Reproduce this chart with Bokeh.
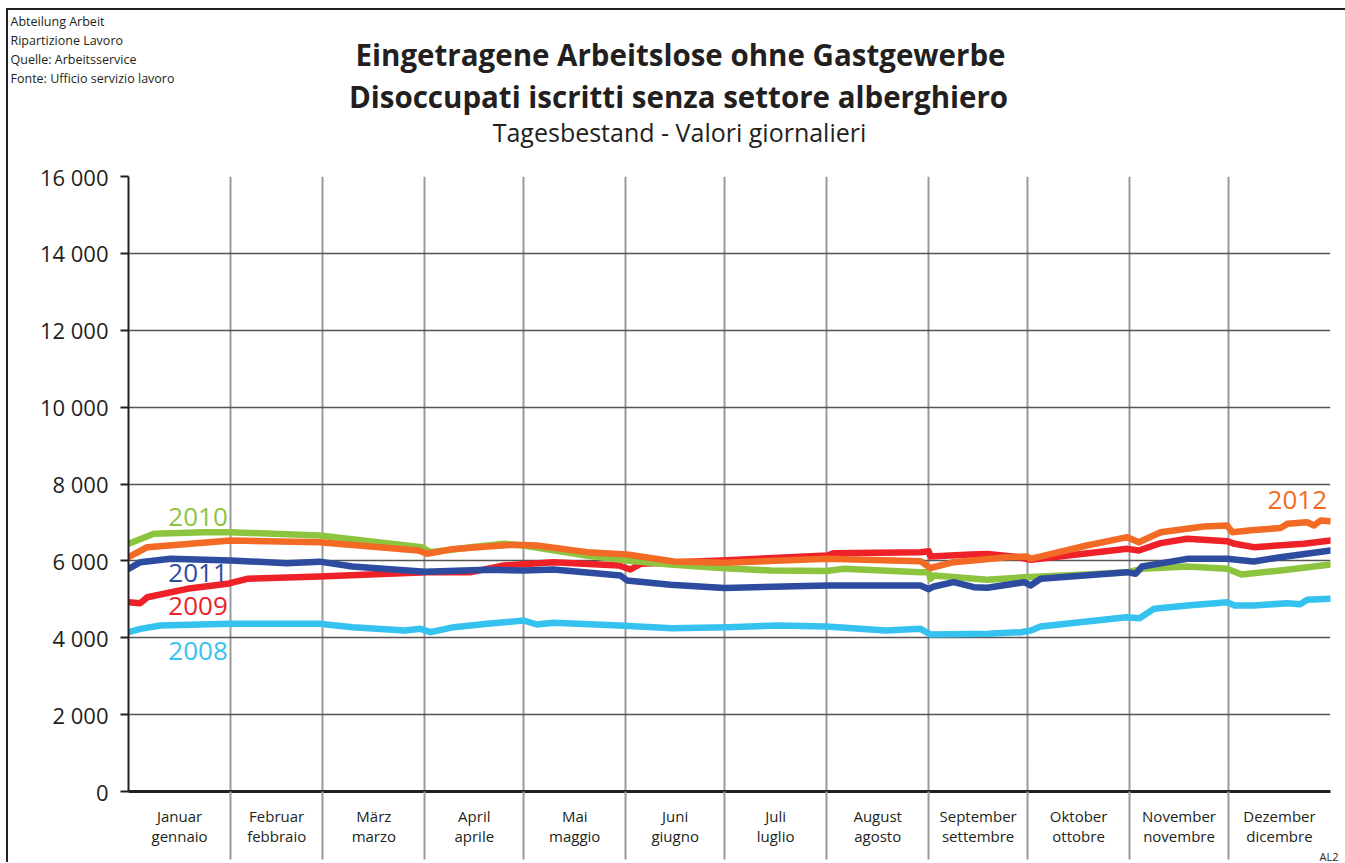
from bokeh.plotting import figure
from bokeh.models import FixedTicker, Range1d, Label, Title
from bokeh.layouts import column
from bokeh.core.properties import value
from bokeh.embed import file_html
from bokeh.resources import INLINE

# ---------------- data ----------------
month_de = ["Januar", "Februar", "März", "April", "Mai", "Juni", "Juli",
            "August", "September", "Oktober", "November", "Dezember"]
month_it = ["gennaio", "febbraio", "marzo", "aprile", "maggio", "giugno",
            "luglio", "agosto", "settembre", "ottobre", "novembre", "dicembre"]
month_days = [31, 28, 31, 30, 31, 30, 31, 31, 30, 31, 30, 31]

y_ticks = [0, 2000, 4000, 6000, 8000, 10000, 12000, 14000, 16000]
y_tick_labels = ["0", "2 000", "4 000", "6 000", "8 000", "10 000",
                 "12 000", "14 000", "16 000"]

title_lines = ["Eingetragene Arbeitslose ohne Gastgewerbe",
               "Disoccupati iscritti senza settore alberghiero"]
subtitle = "Tagesbestand - Valori giornalieri"
source_lines = ["Abteilung Arbeit", "Ripartizione Lavoro",
                "Quelle: Arbeitsservice", "Fonte: Ufficio servizio lavoro"]

# day of year -> registered unemployed
day_2008 = [0, 3.6, 9.7, 31, 58, 68, 84, 88.7, 91.7, 98.8, 109, 120, 124, 129,
            149, 165, 182, 197, 212, 230, 240.5, 243.5, 261, 271, 274, 277,
            303, 307, 311.4, 321.5, 333.6, 335.9, 341.7, 351.9, 355.8, 357.9, 365]
val_2008 = [4145, 4230, 4319, 4362, 4362, 4275, 4189, 4232, 4145, 4275, 4362, 4449,
            4345, 4392, 4319, 4250, 4275, 4319, 4293, 4189, 4232, 4085, 4102, 4145,
            4189, 4293, 4536, 4510, 4753, 4839, 4925, 4839, 4839, 4900, 4874, 4986, 5012]

day_2009 = [0, 3.6, 5.7, 17.8, 30, 36, 58, 90.7, 104, 114, 129, 149, 152.4, 155.5,
            180, 212.2, 214.2, 240.5, 243, 243.5, 255.7, 260.8, 270, 274,
            303.3, 306.8, 313.4, 321.5, 333.6, 335.9, 341.7, 356.9, 365]
val_2009 = [4925, 4900, 5055, 5273, 5403, 5533, 5594, 5706, 5706, 5880, 5966, 5880,
            5776, 5923, 6010, 6140, 6200, 6227, 6250, 6114, 6166, 6180, 6100, 6027,
            6313, 6270, 6461, 6574, 6513, 6444, 6357, 6444, 6530]

day_2010 = [0, 7.7, 23, 31, 58, 89, 91.7, 104, 114, 120, 139, 151.4, 164.6, 181,
            195, 212.2, 217.2, 240.5, 243, 243.5, 244.6, 260.8, 272, 291, 303.3,
            307.8, 321.5, 333.6, 338, 349.8, 365]
val_2010 = [6444, 6704, 6746, 6746, 6660, 6356, 6227, 6356, 6444, 6400, 6140, 6010,
            5906, 5806, 5750, 5737, 5793, 5706, 5706, 5533, 5620, 5507, 5575, 5646,
            5706, 5793, 5854, 5793, 5646, 5750, 5906]

day_2011 = [0, 3.6, 12.8, 31, 48, 58, 68, 90, 109, 120, 129, 149.4, 151.4, 164.6,
            181, 212.2, 240.5, 243, 244.6, 250.6, 256.7, 260.8, 272, 273.9, 277,
            303.3, 305.8, 307.8, 321.5, 333.6, 341.7, 349.8, 365]
val_2011 = [5793, 5966, 6053, 6010, 5940, 5980, 5854, 5715, 5767, 5750, 5776, 5620,
            5490, 5377, 5295, 5360, 5360, 5264, 5334, 5446, 5316, 5299, 5446, 5360,
            5533, 5706, 5663, 5854, 6053, 6053, 5984, 6096, 6270]

day_2012 = [0, 5.7, 31, 58, 88, 90.7, 98, 109, 117, 124, 139.3, 151.4, 165.6, 181,
            212.2, 240.5, 243.5, 250.6, 266.8, 272.9, 273.9, 291, 303.3, 306.8,
            313.4, 326.5, 333.6, 335.2, 341.7, 349.8, 351.9, 357.9, 360, 362, 365]
val_2012 = [6096, 6356, 6530, 6486, 6270, 6184, 6300, 6374, 6418, 6400, 6227, 6166,
            5984, 5950, 6053, 5993, 5814, 5966, 6096, 6114, 6053, 6400, 6617, 6486,
            6746, 6894, 6920, 6746, 6803, 6855, 6963, 7006, 6920, 7050, 7033]

series = [
    ("2008", day_2008, val_2008, "#35C2EF"),
    ("2009", day_2009, val_2009, "#EE2128"),
    ("2010", day_2010, val_2010, "#8DC43F"),
    ("2011", day_2011, val_2011, "#2E4C9F"),
    ("2012", day_2012, val_2012, "#F26A24"),
]

FONT = "Open Sans"
INK = "#231f20"

# ---------------- header (titles / source), coordinates = page pixels ----------------
HX0, HY0, HW, HH = 8, 10, 1337, 151
hdr = figure(width=HW, height=HH, output_backend="svg", toolbar_location=None,
             x_range=Range1d(HX0, HX0 + HW), y_range=Range1d(HY0 + HH, HY0),
             x_axis_type=None, y_axis_type=None, min_border=0)
hdr.outline_line_color = None
hdr.grid.visible = False
hdr.border_fill_color = "white"

hdr.text(x=[680, 678], y=[54, 96], text=title_lines, text_font=value(FONT),
         text_font_size="29.5px", text_font_style="bold", text_color=INK,
         text_align="center", text_baseline="middle")
hdr.text(x=[679], y=[131], text=[subtitle], text_font=value(FONT),
         text_font_size="25px", text_color=INK, text_align="center",
         text_baseline="middle")
hdr.text(x=[10] * 4, y=[21, 40, 59, 78], text=source_lines, text_font=value(FONT),
         text_font_size="12.5px", text_color=INK, text_align="left",
         text_baseline="middle")

# ---------------- main chart ----------------
bounds = [0]
for m in month_days:
    bounds.append(bounds[-1] + m)
mids = [(bounds[i] + bounds[i + 1]) / 2 for i in range(12)]

p = figure(width=1337, height=701, output_backend="svg", toolbar_location=None,
           x_range=Range1d(0, bounds[-1]), y_range=Range1d(0, 16000),
           min_border_left=120, min_border_right=15, min_border_top=15,
           min_border_bottom=71)
p.outline_line_color = None
p.background_fill_color = "white"
p.border_fill_color = "white"

# do not align the header's frame with the chart's frame
for fig in (hdr, p):
    try:
        fig.frame_align = False
    except Exception:
        pass

xa = p.xaxis[0]
xa.ticker = FixedTicker(ticks=mids, minor_ticks=bounds[1:-1])
xa.major_label_overrides = {m: f"{de}\n{it}" for m, de, it in zip(mids, month_de, month_it)}
xa.major_tick_line_color = None
xa.major_tick_out = 0
xa.major_tick_in = 0
xa.minor_tick_out = 68
xa.minor_tick_in = 0
xa.minor_tick_line_color = "#9a9a9a"
xa.minor_tick_line_width = 2
xa.axis_line_color = INK
xa.axis_line_width = 3
xa.major_label_text_font = FONT
xa.major_label_text_font_size = "15px"
xa.major_label_text_color = INK
xa.major_label_text_line_height = 1.03
xa.major_label_standoff = -54

ya = p.yaxis[0]
ya.ticker = FixedTicker(ticks=y_ticks)
ya.major_label_overrides = {t: s for t, s in zip(y_ticks, y_tick_labels)}
ya.minor_tick_line_color = None
ya.major_tick_out = 8
ya.major_tick_in = 0
ya.major_tick_line_color = INK
ya.major_tick_line_width = 2
ya.axis_line_color = INK
ya.axis_line_width = 2
ya.major_label_text_font = FONT
ya.major_label_text_font_size = "22px"
ya.major_label_text_color = INK
ya.major_label_standoff = 12

p.xgrid.ticker = FixedTicker(ticks=bounds[1:-1])
p.xgrid.grid_line_color = "#9a9a9a"
p.xgrid.grid_line_width = 2
p.ygrid.ticker = FixedTicker(ticks=y_ticks[1:])
p.ygrid.grid_line_color = "#555555"
p.ygrid.grid_line_width = 1.5

for name, d, v, c in series:
    p.line(d, v, line_width=6.5, line_color=c, line_join="round", line_cap="round")

for txt, x, y, c in [("2010", 12.1, 7154, "#8DC43F"), ("2011", 12.1, 5672, "#2E4C9F"),
                     ("2009", 12.1, 4839, "#EE2128"), ("2008", 12.1, 3668, "#35C2EF"),
                     ("2012", 345.9, 7571, "#F26A24")]:
    p.add_layout(Label(x=x, y=y, text=txt, text_color=c, text_font=FONT,
                       text_font_size="26px", text_baseline="middle", text_align="left"))

p.add_layout(Title(text="AL2", align="right", offset=-8, standoff=-6,
                   text_font=FONT, text_font_size="11px", text_color=INK,
                   text_font_style="normal"), "below")

layout = column(hdr, p, spacing=0)
layout.styles = {"margin-left": "6px", "margin-top": "8px",
                 "border-top": "2px solid #231f20", "border-left": "2px solid #231f20"}

open("out.html", "w").write(file_html(layout, INLINE))
